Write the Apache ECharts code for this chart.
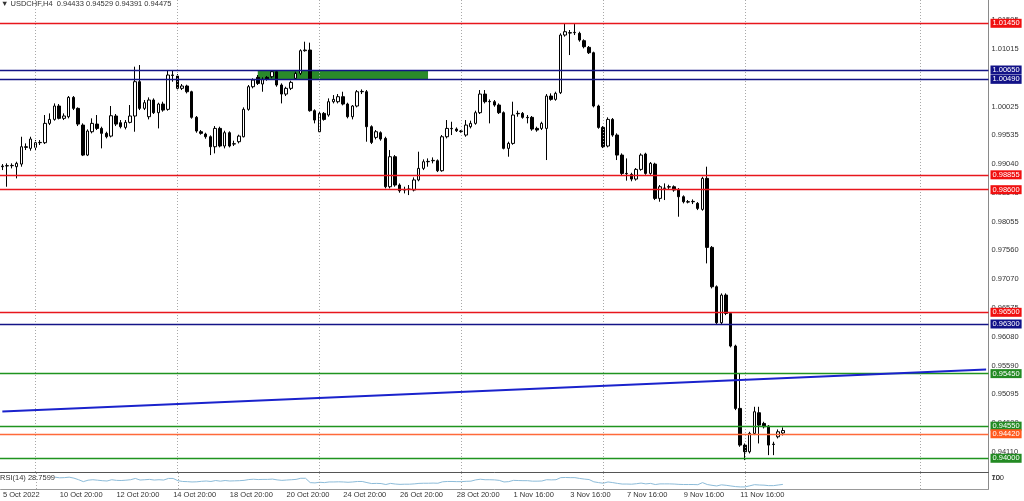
<!DOCTYPE html>
<html><head><meta charset="utf-8">
<script src="https://cdn.jsdelivr.net/npm/echarts@6/dist/echarts.min.js"></script>
<style>html,body{margin:0;padding:0;background:#fff}#c{width:1024px;height:501px}</style>
</head><body><div id="c"></div>
<script>
const symbolTitle = 'USDCHF,H4';
const lastQuote = ['0.94433', '0.94529', '0.94391', '0.94475'];
const barCount = 209;
// [open, close, low, high]
const ohlc = [
[0.98994,0.99005,0.98936,0.99039],[0.99011,0.99008,0.98651,0.99051],[0.99011,0.99016,0.98965,0.99051],[0.98994,0.99051,0.98794,0.99079],
[0.99039,0.99336,0.98994,0.99507],[0.99336,0.99325,0.99279,0.99393],[0.99308,0.99468,0.99268,0.99507],[0.99325,0.99405,0.99279,0.99450],
[0.99405,0.99410,0.99365,0.99450],[0.99405,0.99736,0.99382,0.99879],[0.99736,0.99804,0.99707,0.99907],[0.99804,1.00033,0.99782,1.00078],
[1.00033,0.99822,0.99804,1.00067],[0.99822,0.99862,0.99793,0.99907],[0.99850,1.00181,0.99822,1.00204],[1.00181,0.99993,0.99964,1.00204],
[0.99993,0.99724,0.99690,1.00010],[0.99707,0.99193,0.99176,0.99736],[0.99193,0.99605,0.99176,0.99633],[0.99593,0.99736,0.99565,0.99822],
[0.99724,0.99650,0.99622,0.99879],[0.99650,0.99565,0.99308,0.99679],[0.99565,0.99507,0.99479,0.99593],[0.99518,0.99867,0.99496,1.00033],
[0.99862,0.99724,0.99690,0.99896],[0.99747,0.99679,0.99650,0.99793],[0.99667,0.99753,0.99633,0.99793],[0.99753,0.99862,0.99736,1.00050],
[0.99862,1.00450,0.99593,1.00707],[1.00450,0.99993,0.99964,1.00735],[0.99993,1.00090,0.99964,1.00136],[0.99850,1.00136,0.99804,1.00181],
[1.00136,0.99919,0.99896,1.00164],[0.99919,1.00067,0.99650,1.00090],[1.00067,0.99964,0.99936,1.00107],[0.99976,1.00564,0.99953,1.00650],
[1.00564,1.00558,1.00450,1.00650],[1.00547,1.00336,1.00318,1.00581],[1.00336,1.00376,1.00307,1.00410],[1.00376,1.00278,1.00250,1.00398],
[1.00278,0.99839,0.99816,1.00295],[0.99839,0.99605,0.99576,0.99862],[0.99593,0.99565,0.99542,0.99622],[0.99553,0.99507,0.99473,0.99576],
[0.99507,0.99336,0.99193,0.99530],[0.99336,0.99650,0.99222,0.99690],[0.99650,0.99348,0.99325,0.99679],[0.99348,0.99576,0.99308,0.99610],
[0.99576,0.99348,0.99325,0.99599],[0.99382,0.99388,0.99348,0.99439],[0.99422,0.99518,0.99393,0.99542],[0.99507,0.99976,0.99496,1.00010],
[0.99976,1.00364,0.99953,1.00393],[1.00364,1.00478,1.00336,1.00507],[1.00524,1.00421,1.00393,1.00564],[1.00410,1.00490,1.00278,1.00524],
[1.00524,1.00490,1.00467,1.00547],[1.00535,1.00621,1.00507,1.00650],[1.00621,1.00393,1.00364,1.00650],[1.00393,1.00238,1.00078,1.00421],
[1.00238,1.00336,1.00204,1.00364],[1.00336,1.00438,1.00307,1.00467],[1.00507,1.00592,1.00490,1.00621],[1.00592,1.00981,1.00564,1.01004],
[1.00981,1.00992,1.00964,1.01135],[1.00992,0.99953,0.99936,1.01118],[0.99953,0.99793,0.99736,0.99976],[0.99593,0.99907,0.99576,0.99936],
[0.99907,0.99804,0.99782,0.99930],[0.99879,1.00107,0.99850,1.00164],[1.00107,1.00147,1.00078,1.00221],[1.00107,1.00193,1.00078,1.00238],
[1.00193,1.00067,1.00044,1.00278],[1.00067,0.99850,0.99822,1.00090],[0.99850,1.00033,0.99804,1.00050],[1.00033,1.00278,1.00010,1.00307],
[1.00278,1.00284,1.00238,1.00318],[1.00278,0.99679,0.99422,1.00307],[0.99679,0.99410,0.99382,0.99702],[0.99496,0.99593,0.99462,0.99622],
[0.99576,0.99468,0.99439,0.99599],[0.99479,0.98651,0.98622,0.99507],[0.98651,0.99165,0.98622,0.99279],[0.99165,0.98680,0.98651,0.99193],
[0.98680,0.98582,0.98548,0.98708],[0.98594,0.98600,0.98537,0.98651],[0.98605,0.98611,0.98508,0.98680],[0.98594,0.98767,0.98571,0.98811],
[0.98767,0.98965,0.98744,0.99251],[0.98965,0.99079,0.98936,0.99119],[0.99079,0.99085,0.98994,0.99136],[0.99096,0.99102,0.99051,0.99153],
[0.99096,0.98925,0.98902,0.99119],[0.98925,0.99507,0.98908,0.99536],[0.99507,0.99650,0.99479,0.99793],[0.99650,0.99644,0.99536,0.99764],
[0.99639,0.99610,0.99588,0.99667],[0.99605,0.99599,0.99576,0.99622],[0.99536,0.99707,0.99507,0.99793],[0.99679,0.99736,0.99650,0.99782],
[0.99736,0.99919,0.99713,0.99953],[0.99919,1.00238,0.99896,1.00307],[1.00238,1.00107,1.00078,1.00307],[1.00107,1.00113,0.99736,1.00147],
[1.00107,1.00050,1.00021,1.00136],[1.00050,0.99919,0.99896,1.00078],[0.99919,0.99308,0.99291,0.99941],[0.99308,0.99393,0.99165,0.99422],
[0.99393,0.99879,0.99370,1.00107],[0.99907,0.99901,0.99850,0.99953],[0.99907,0.99839,0.99816,0.99930],[0.99839,0.99833,0.99736,0.99879],
[0.99839,0.99639,0.99610,0.99862],[0.99650,0.99622,0.99593,0.99679],[0.99650,0.99736,0.99622,0.99764],[0.99650,1.00204,0.99108,1.00238],
[1.00204,1.00147,1.00124,1.00250],[1.00147,1.00250,1.00124,1.00278],[1.00261,1.01249,1.00238,1.01278],[1.01249,1.01306,1.01221,1.01449],
[1.01289,1.01283,1.00906,1.01335],[1.01289,1.01295,1.01249,1.01437],[1.01278,1.01163,1.01135,1.01306],[1.01152,1.01049,1.01021,1.01175],
[1.01038,1.00946,1.00924,1.01061],[1.00946,1.00033,1.00010,1.00964],[1.00033,0.99667,0.99644,1.00056],[0.99667,0.99336,0.99313,0.99690],
[0.99348,0.99804,0.99325,0.99839],[0.99804,0.99536,0.99507,0.99827],[0.99536,0.99193,0.99108,0.99565],[0.99193,0.98879,0.98850,0.99222],
[0.98879,0.98873,0.98755,0.99136],[0.98862,0.98782,0.98744,0.98890],[0.98782,0.98948,0.98755,0.98971],[0.98948,0.99193,0.98925,0.99222],
[0.99211,0.98879,0.98856,0.99233],[0.98879,0.99051,0.98856,0.99074],[0.99039,0.98451,0.98423,0.99062],[0.98451,0.98651,0.98394,0.98680],
[0.98622,0.98628,0.98423,0.98708],[0.98651,0.98645,0.98605,0.98685],[0.98651,0.98594,0.98565,0.98674],[0.98605,0.98480,0.98137,0.98628],
[0.98480,0.98394,0.98366,0.98503],[0.98394,0.98388,0.98366,0.98423],[0.98394,0.98400,0.98354,0.98434],[0.98366,0.98280,0.98251,0.98388],
[0.98263,0.98794,0.98240,0.98822],[0.98794,0.97612,0.97338,0.98994],[0.97612,0.96938,0.96909,0.97635],[0.96938,0.96321,0.96298,0.96961],
[0.96321,0.96795,0.96298,0.96824],[0.96795,0.96481,0.96452,0.96824],[0.96481,0.95922,0.95899,0.96504],[0.95922,0.94854,0.94825,0.95945],
[0.94854,0.94226,0.94197,0.95453],[0.94226,0.94112,0.93969,0.94254],[0.94112,0.94426,0.94083,0.94454],[0.94426,0.94797,0.94397,0.94882],
[0.94780,0.94568,0.94254,0.94882],[0.94597,0.94540,0.94511,0.94625],[0.94551,0.94226,0.94054,0.94568],[0.94243,0.94237,0.94054,0.94283],
[0.94368,0.94454,0.94340,0.94494],[0.94433,0.94475,0.94391,0.94529]
];
const rsiLabel = 'RSI(14) 28.7599';
const rsiStart = 11;
const rsiValues = [
74,70,71,74,68,58,46,55,58,55,
52,50,58,54,53,55,58,66,56,58,
60,56,58,56,66,66,52,47,46,44,
45,48,50,47,53,49,53,50,51,52,
54,59,61,59,60,60,62,57,54,56,
58,60,67,67,40,38,42,40,44,44,
45,44,42,44,47,47,40,34,35,34,
28,35,31,29,30,30,32,35,36,36,
37,36,45,47,47,46,46,48,49,57,
61,58,58,57,54,44,46,54,53,52,
52,49,49,50,58,57,58,71,72,71,
71,66,62,59,45,40,36,44,40,35,
31,31,30,33,37,32,35,28,32,32,
32,31,29,28,28,28,27,40,28,23,
19,26,23,19,15,13,13,20,27,25,
24,21,21,25,28.76
];
const timeLabels = ['5 Oct 2022','10 Oct 20:00','12 Oct 20:00','14 Oct 20:00','18 Oct 20:00','20 Oct 20:00','24 Oct 20:00','26 Oct 20:00','28 Oct 20:00','1 Nov 16:00','3 Nov 16:00','7 Nov 16:00','9 Nov 16:00','11 Nov 16:00'];
const timeLabelBars = [0,12,24,36,48,60,72,84,96,108,120,132,144,156];
const gridBars = [7,37,67,97,127,157,194];
const priceTicks = [1.01505,1.01015,1.00520,1.00025,0.99535,0.99040,0.98545,0.98055,0.97560,0.97070,0.96575,0.96080,0.95590,0.95095,0.94600,0.94110];
const levelValues = [1.0145,1.0065,1.0049,0.98855,0.986,0.965,0.963,0.9545,0.9455,0.9442,0.94];
const levelKinds = ['red','navy','navy','red','red','red','navy','green','green','orange','green'];
const trendLine = [[0,0.94801],[208,0.95522]];
const zoneBox = [[54,1.0065],[90,1.0049]];
const priceRange = [0.93765, 1.01849];
const rsiTicks = [30,70];
const rsiEdgeTicks = [0,100];

const FONT = "'Liberation Sans', Arial, 'DejaVu Sans', sans-serif";
const levelStyle = {
  red: {line:'#e8161c', box:'#f01010'},
  navy: {line:'#141487', box:'#121288'},
  green: {line:'#1f941f', box:'#238a23'},
  orange: {line:'#ff6a3a', box:'#ff5a1e'}
};
const cats = Array.from({length: barCount}, (_, i) => String(i));
const labelMap = {};
timeLabelBars.forEach((b, k) => { labelMap[b] = timeLabels[k]; });

const vLines = gridBars.map(b => ({xAxis: b, lineStyle: {color:'#a8a8a8', type:[1,2], width:1}, label:{show:false}}));
const hLines = levelValues.map((v, k) => ({
  yAxis: v,
  lineStyle: {color: levelStyle[levelKinds[k]].line, width: 1.3, type: 'solid'},
  label: {show: true, position: 'end', distance: 2, formatter: v.toFixed(5), color: '#fff',
    backgroundColor: levelStyle[levelKinds[k]].box, padding: [1,2,0,2], fontSize: 7.5, lineHeight: 8, fontFamily: FONT}
}));
const trend = [
  {coord: trendLine[0], lineStyle: {color:'#1a22cc', width: 2, type:'solid'}, label:{show:false}},
  {coord: trendLine[1]}
];

const chart = echarts.init(document.getElementById('c'), null, {renderer: 'canvas'});
chart.setOption({
  animation: false,
  backgroundColor: '#fff',
  title: [
    {text: '\u25BC ' + symbolTitle + '  ' + lastQuote.join(' '), left: 1, top: 0, padding: 0,
     textStyle: {fontSize: 7.5, fontWeight: 'normal', color: '#333', fontFamily: FONT}},
    {text: rsiLabel, left: 0, top: 474, padding: 0,
     textStyle: {fontSize: 7.5, fontWeight: 'normal', color: '#333', fontFamily: FONT}}
  ],
  grid: [
    {left: -3.13, right: 35.5, top: 0, height: 472},
    {left: -3.13, right: 35.5, top: 473, height: 16}
  ],
  xAxis: [
    {type: 'category', gridIndex: 0, data: cats, boundaryGap: true,
     axisLine: {show: true, lineStyle: {color: '#555', width: 1}}, axisTick: {show: false}, axisLabel: {show: false}, splitLine: {show: false}},
    {type: 'category', gridIndex: 1, data: cats, boundaryGap: true,
     axisLine: {show: true, lineStyle: {color: '#999', width: 1}}, axisTick: {show: false}, splitLine: {show: false},
     axisLabel: {show: true, interval: (i) => labelMap[i] !== undefined, formatter: (v, i) => labelMap[+v] || '',
       align: 'left', margin: 2, fontSize: 7.5, color: '#333', fontFamily: FONT}}
  ],
  yAxis: [
    {type: 'value', gridIndex: 0, position: 'right', min: priceRange[0], max: priceRange[1],
     axisLine: {show: true, lineStyle: {color: '#8a8a8a'}}, axisTick: {show: false}, splitLine: {show: false},
     axisLabel: {customValues: priceTicks, formatter: v => v.toFixed(5), fontSize: 7.5, color: '#333', margin: 3, fontFamily: FONT}},
    {type: 'value', gridIndex: 1, position: 'right', min: 0, max: 100,
     axisLine: {show: true, lineStyle: {color: '#8a8a8a'}}, axisTick: {show: false}, splitLine: {show: false},
     axisLabel: {customValues: rsiTicks, fontSize: 7.5, color: '#333', margin: 3, fontFamily: FONT}},
    {type: 'value', gridIndex: 1, position: 'right', min: -75, max: 175,
     axisLine: {show: false}, axisTick: {show: false}, splitLine: {show: false},
     axisLabel: {customValues: rsiEdgeTicks, fontSize: 7.5, color: '#333', margin: 3, fontFamily: FONT}}
  ],
  series: [
    {type: 'candlestick', xAxisIndex: 0, yAxisIndex: 0, data: ohlc, barWidth: 3,
     itemStyle: {color: '#ffffff', color0: '#000000', borderColor: '#000000', borderColor0: '#000000', borderWidth: 1},
     markArea: {silent: true, itemStyle: {color: '#2a8a2a', opacity: 1},
       data: [[{xAxis: zoneBox[0][0], yAxis: zoneBox[0][1]}, {xAxis: zoneBox[1][0], yAxis: zoneBox[1][1]}]]},
     markLine: {silent: true, precision: 5, symbol: ['none','none'], animation: false, data: [...vLines, ...hLines, trend]}
    },
    {type: 'line', xAxisIndex: 1, yAxisIndex: 1, data: Array(rsiStart).fill('-').concat(rsiValues),
     symbol: 'none', lineStyle: {color: '#8dbcd9', width: 1},
     markLine: {silent: true, symbol: ['none','none'], animation: false, data: vLines}
    }
  ]
});
</script>
</body></html>
